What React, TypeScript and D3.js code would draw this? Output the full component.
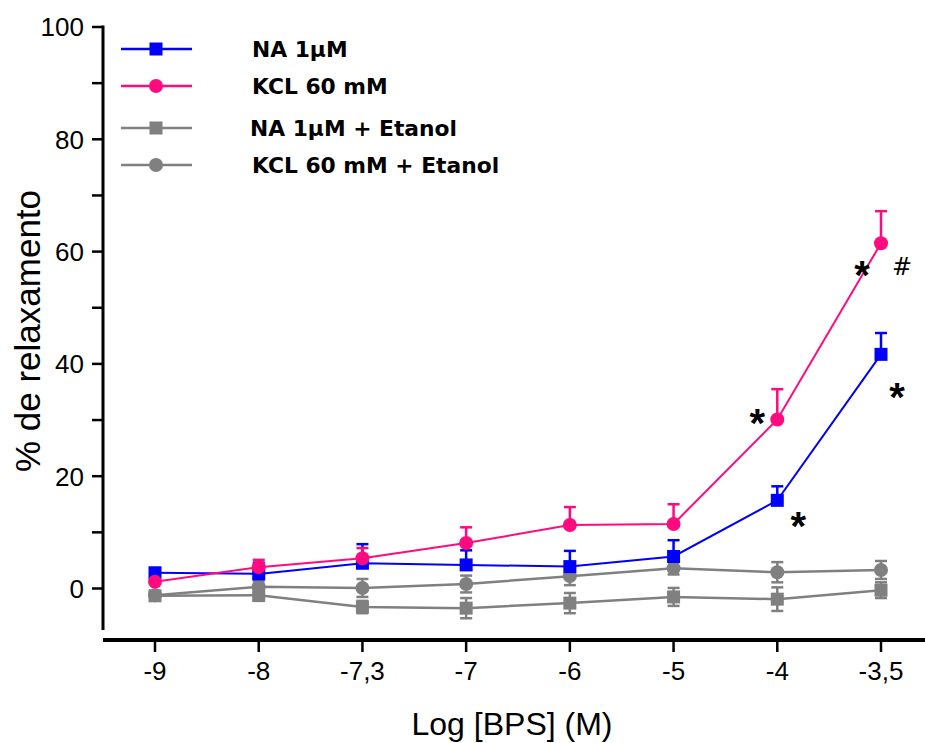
import React, { useEffect, useRef } from "react";
import * as d3 from "d3";

const doses = ["-9", "-8", "-7,3", "-7", "-6", "-5", "-4", "-3,5"];

const naMean = [2.8, 2.6, 4.5, 4.2, 3.9, 5.7, 15.7, 41.7];
const naErr = [0.5, 2.0, 3.4, 2.6, 2.8, 2.9, 2.5, 3.8];

const kclMean = [1.2, 3.8, 5.4, 8.1, 11.3, 11.5, 30.1, 61.5];
const kclErr = [0.5, 1.3, 1.8, 2.8, 3.2, 3.5, 5.4, 5.7];

const naEtMean = [-1.3, -1.2, -3.3, -3.5, -2.6, -1.5, -1.9, -0.3];
const naEtErr = [0.5, 1.0, 1.1, 1.8, 1.8, 1.6, 2.1, 1.4];

const kclEtMean = [-1.2, 0.3, 0.1, 0.8, 2.2, 3.6, 2.9, 3.3];
const kclEtErr = [0.5, 1.0, 1.6, 1.5, 1.6, 1.1, 1.8, 1.6];

const yTicks = [0, 20, 40, 60, 80, 100];
const yMinor = [10, 30, 50, 70, 90];

// significance marks: [dose, value, label]
const marks: [string, number, string][] = [
  ["-4", 30.1, "*"],
  ["-4", 15.7, "*"],
  ["-3,5", 61.5, "*"],
  ["-3,5", 61.5, "#"],
  ["-3,5", 41.7, "*"],
];

type Series = {
  name: string;
  mean: number[];
  err: number[];
  color: string;
  shape: "square" | "circle";
  both: boolean;
  width: number;
};

const series: Series[] = [
  { name: "NA 1µM + Etanol", mean: naEtMean, err: naEtErr, color: "#808080", shape: "square", both: true, width: 2.5 },
  { name: "KCL 60 mM + Etanol", mean: kclEtMean, err: kclEtErr, color: "#808080", shape: "circle", both: true, width: 2.5 },
  { name: "NA 1µM", mean: naMean, err: naErr, color: "#0000ff", shape: "square", both: false, width: 2 },
  { name: "KCL 60 mM", mean: kclMean, err: kclErr, color: "#ff0a7f", shape: "circle", both: false, width: 2 },
];

const legendOrder = ["NA 1µM", "KCL 60 mM", "NA 1µM + Etanol", "KCL 60 mM + Etanol"];

export default function App() {
  const ref = useRef<SVGSVGElement>(null);

  useEffect(() => {
    const svg = d3.select(ref.current);
    svg.selectAll("*").remove();

    const x = d3.scalePoint<string>().domain(doses).range([155, 881]);
    const y = d3.scaleLinear().domain([0, 100]).range([588.5, 27]);
    const axisFont = "'Liberation Sans', Arial, sans-serif";

    // Y axis
    const yAxis = svg.append("g").attr("transform", "translate(103,0)");
    yAxis.append("line")
      .attr("x1", 0).attr("x2", 0)
      .attr("y1", y(100) - 1.5).attr("y2", y(-7.4))
      .attr("stroke", "#000").attr("stroke-width", 3);
    yAxis.selectAll("line.major")
      .data(yTicks.concat(yMinor))
      .join("line")
      .attr("class", "major")
      .attr("x1", -11).attr("x2", 0)
      .attr("y1", d => y(d)).attr("y2", d => y(d))
      .attr("stroke", "#000").attr("stroke-width", 2.5);
    yAxis.selectAll("text")
      .data(yTicks)
      .join("text")
      .attr("x", -19)
      .attr("y", d => y(d))
      .attr("dy", "0.36em")
      .attr("text-anchor", "end")
      .attr("font-family", axisFont)
      .attr("font-size", 26)
      .text(d => d);

    // X axis
    const xAxis = svg.append("g").attr("transform", "translate(0,640)");
    xAxis.append("line")
      .attr("x1", 103).attr("x2", 925)
      .attr("y1", 0).attr("y2", 0)
      .attr("stroke", "#000").attr("stroke-width", 4);
    xAxis.selectAll("line.tick")
      .data(doses)
      .join("line")
      .attr("class", "tick")
      .attr("x1", d => x(d)!).attr("x2", d => x(d)!)
      .attr("y1", 0).attr("y2", 12)
      .attr("stroke", "#000").attr("stroke-width", 2.5);
    xAxis.selectAll("text")
      .data(doses)
      .join("text")
      .attr("x", d => x(d)!)
      .attr("y", 40)
      .attr("text-anchor", "middle")
      .attr("font-family", axisFont)
      .attr("font-size", 26)
      .text(d => d);

    // axis titles
    svg.append("text")
      .attr("x", 512).attr("y", 735)
      .attr("text-anchor", "middle")
      .attr("font-family", axisFont)
      .attr("font-size", 32)
      .text("Log [BPS] (M)");
    svg.append("text")
      .attr("transform", "translate(40,331) rotate(-90)")
      .attr("text-anchor", "middle")
      .attr("font-family", axisFont)
      .attr("font-size", 35)
      .text("% de relaxamento");

    const line = d3.line<number>()
      .x((_, i) => x(doses[i])!)
      .y(d => y(d));

    const drawMarker = (g: d3.Selection<SVGGElement, unknown, null, undefined>, s: Series, cx: number, cy: number) => {
      if (s.shape === "square") {
        g.append("rect")
          .attr("x", cx - 6.5).attr("y", cy - 6.5)
          .attr("width", 13).attr("height", 13)
          .attr("fill", s.color);
      } else {
        g.append("circle")
          .attr("cx", cx).attr("cy", cy).attr("r", 7)
          .attr("fill", s.color);
      }
    };

    series.forEach(s => {
      const g = svg.append("g");
      // error bars
      s.mean.forEach((m, i) => {
        const cx = x(doses[i])!;
        const top = y(m + s.err[i]);
        const bot = s.both ? y(m - s.err[i]) : y(m);
        g.append("line")
          .attr("x1", cx).attr("x2", cx)
          .attr("y1", top).attr("y2", bot)
          .attr("stroke", s.color).attr("stroke-width", 2.5);
        g.append("line")
          .attr("x1", cx - 6).attr("x2", cx + 6)
          .attr("y1", top).attr("y2", top)
          .attr("stroke", s.color).attr("stroke-width", 2.5);
        if (s.both) {
          g.append("line")
            .attr("x1", cx - 6).attr("x2", cx + 6)
            .attr("y1", bot).attr("y2", bot)
            .attr("stroke", s.color).attr("stroke-width", 2.5);
        }
      });
      g.append("path")
        .datum(s.mean)
        .attr("fill", "none")
        .attr("stroke", s.color)
        .attr("stroke-width", s.width)
        .attr("d", line);
      s.mean.forEach((m, i) => drawMarker(g, s, x(doses[i])!, y(m)));
    });

    // significance marks
    const offsets: Record<string, [number, number]> = {
      "-4|30.1|*": [-20, 1],
      "-4|15.7|*": [21, -3],
      "-3,5|61.5|*": [-19, -4],
      "-3,5|61.5|#": [21, -4],
      "-3,5|41.7|*": [16, -6],
    };
    marks.forEach(([d, v, label]) => {
      const [dx, dv] = offsets[d + "|" + v + "|" + label];
      const cx = x(d)! + dx;
      const cy = y(v + dv);
      const star = label === "*";
      svg.append("text")
        .attr("x", cx)
        .attr("y", star ? cy + 23 : cy + 9)
        .attr("text-anchor", "middle")
        .attr("font-family", star ? axisFont : "'DejaVu Sans', sans-serif")
        .attr("font-weight", star ? "bold" : "normal")
        .attr("font-size", star ? 40 : 24)
        .text(label);
    });

    // legend
    const legend = svg.append("g");
    legendOrder.forEach((name, i) => {
      const s = series.find(t => t.name === name)!;
      const ly = [49, 86, 128, 165][i];
      legend.append("line")
        .attr("x1", 121).attr("x2", 192)
        .attr("y1", ly).attr("y2", ly)
        .attr("stroke", s.color).attr("stroke-width", 2.5);
      drawMarker(legend as any, s, 156, ly);
      legend.append("text")
        .attr("x", i === 2 ? 250 : 252)
        .attr("y", ly + 8)
        .attr("font-family", "'DejaVu Sans', Verdana, sans-serif")
        .attr("font-weight", "bold")
        .attr("font-size", 21.8)
        .text(name);
    });
  }, []);

  return (
    <svg
      ref={ref}
      width={925}
      height={743}
      style={{ position: "fixed", left: 0, top: 0, background: "#fff" }}
    />
  );
}
